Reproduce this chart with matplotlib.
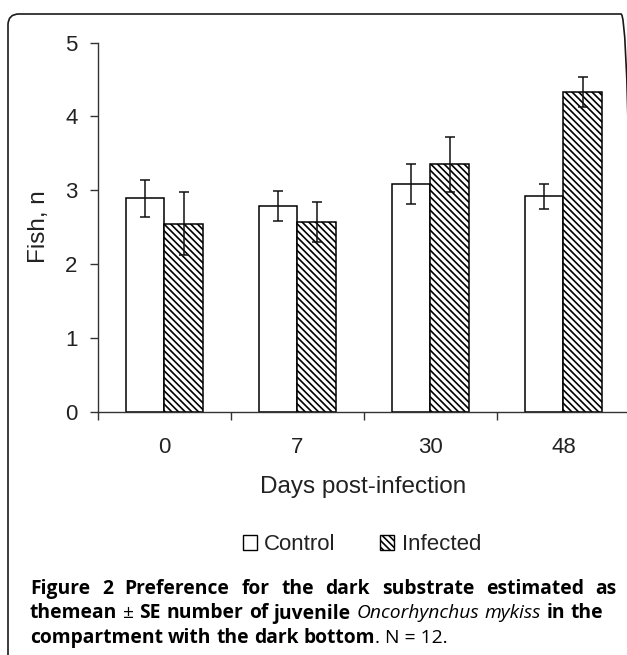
import numpy as np
import matplotlib
matplotlib.use("Agg")
import matplotlib.pyplot as plt
from matplotlib.patches import FancyBboxPatch, Patch
from matplotlib.transforms import IdentityTransform

days = ["0", "7", "30", "48"]
control = [2.89, 2.79, 3.09, 2.92]
control_se = [0.25, 0.20, 0.27, 0.17]
infected = [2.55, 2.57, 3.35, 4.33]
infected_se = [0.43, 0.27, 0.375, 0.205]

W, H = 627, 655
txt = "#222222"
plt.rcParams["font.family"] = ["Liberation Sans", "DejaVu Sans"]
plt.rcParams["hatch.linewidth"] = 1.2
plt.rcParams["hatch.color"] = "black"
hatch = "\\" * 5

fig = plt.figure(figsize=(W / 100, H / 100), dpi=100)


def px(x, y):
    # pixel position (top-left origin) -> figure fraction
    return x / W, 1 - y / H


ax = fig.add_axes([97.7 / W, 1 - 411.7 / H, (630 - 97.7) / W, 369 / H])

width = 0.29
x = np.arange(len(days)) + 0.5
ax.bar(x - width / 2, control, width, color="white", edgecolor="black", linewidth=1.1)
ax.bar(x + width / 2, infected, width, color="white", edgecolor="black", linewidth=1.1,
       hatch=hatch)
ax.errorbar(x - width / 2, control, yerr=control_se, fmt="none", ecolor="#111111",
            elinewidth=1.1, capsize=3.8, capthick=1.1)
ax.errorbar(x + width / 2, infected, yerr=infected_se, fmt="none", ecolor="#111111",
            elinewidth=1.1, capsize=3.8, capthick=1.1)

ax.set_xlim(0, 4)
ax.set_ylim(0, 5)
ax.set_yticks(range(6))
ax.set_xticks(np.arange(5))
ax.set_xticklabels([])
ax.set_xticks(x, minor=True)
ax.set_xticklabels(days, minor=True)
ax.tick_params(axis="x", which="major", length=5.5, width=1, color="#333333", direction="out")
ax.tick_params(axis="x", which="minor", length=0, pad=18, labelsize=16, labelcolor=txt)
ax.tick_params(axis="y", length=5.5, width=1, color="#333333", pad=9, labelsize=16,
               labelcolor=txt)
for s in ["top", "right"]:
    ax.spines[s].set_visible(False)
for s in ["left", "bottom"]:
    ax.spines[s].set_color("#333333")
    ax.spines[s].set_linewidth(1.0)

fig.text(*px(39, 227), "Fish, n", rotation=90, ha="center", va="center",
         fontsize=17.5, color=txt)
fig.text(*px(363.5, 487), "Days post-infection", ha="center", va="center",
         fontsize=17.5, color=txt)

handles = [Patch(facecolor="white", edgecolor="black", linewidth=1.0, label="Control"),
           Patch(facecolor="white", edgecolor="black", linewidth=1.0, hatch=hatch,
                 label="Infected")]
fig.legend(handles=handles, loc="center", bbox_to_anchor=px(362, 545), ncol=2,
           frameon=False, fontsize=16, handlelength=0.62, handleheight=0.62,
           handletextpad=0.35, columnspacing=2.0, labelcolor=txt)

# rounded frame around the whole figure
frame = FancyBboxPatch((8, -30), 624, H - 14 + 30,
                       boxstyle="round,pad=0,rounding_size=11",
                       transform=IdentityTransform(), fill=False,
                       edgecolor="#1a1a1a", linewidth=1.2)
fig.patches.append(frame)

# caption, placed word by word
cap_font = ["Open Sans", "DejaVu Sans"]
cap_size = 13.9
B, R, I = ("bold", "normal"), ("normal", "normal"), ("normal", "italic")
line1 = [("Figure", B), ("2", B), ("Preference", B), ("for", B), ("the", B), ("dark", B),
         ("substrate", B), ("estimated", B), ("as", B)]
line2 = [("themean", B), ("\u00b1", R), ("SE", B), ("number", B), ("of", B), ("juvenile", B),
         ("Oncorhynchus", I), ("mykiss", I), ("in", B), ("the", B)]
line3 = [("compartment", B), ("with", B), ("the", B), ("dark", B), ("bottom", B)]

renderer = fig.canvas.get_renderer()


def make_words(words, y):
    objs = []
    for w, (weight, style) in words:
        t = fig.text(0, 1 - y / H, w, fontsize=cap_size, fontweight=weight, fontstyle=style,
                     family=cap_font, color="black", va="baseline", ha="left")
        objs.append(t)
    widths = [t.get_window_extent(renderer).width for t in objs]
    return objs, widths


def place(words, y, x0, x1=None):
    objs, widths = make_words(words, y)
    if x1 is None:
        sp = cap_size * 100 / 72 * 0.26
    else:
        sp = (x1 - x0 - sum(widths)) / (len(objs) - 1)
    xc = x0
    for t, wd in zip(objs, widths):
        t.set_x(xc / W)
        xc += wd + sp
    return xc - sp


place(line1, 594, 30, 617)
place(line2, 618.5, 30, 603)
end = place(line3, 643, 30)
fig.text(end / W, 1 - 643 / H, ". N = 12.", fontsize=cap_size, family=cap_font,
         color="black", va="baseline", ha="left")

fig.savefig("out.png", dpi=100)
